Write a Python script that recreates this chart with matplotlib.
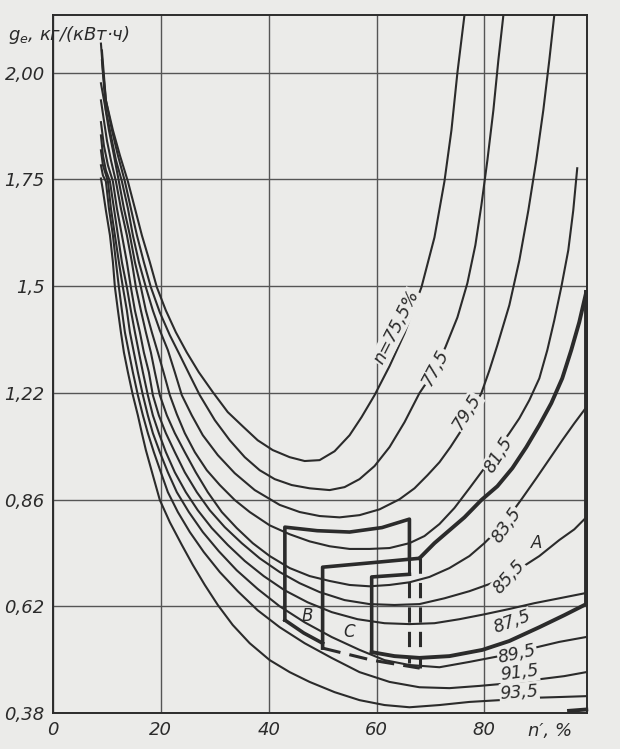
import numpy as np
import matplotlib.pyplot as plt

# y axis of the original is drawn with equal spacing between these (odd) values
ge_ticks = [0.38, 0.62, 0.86, 1.22, 1.5, 1.75, 2.00]
ge_tick_labels = ['0,38', '0,62', '0,86', '1,22', '1,5', '1,75', '2,00']
n_ticks = [0, 20, 40, 60, 80]

# curves g_e(n') for each efficiency
eff_labels = ['n=75,5%', '77,5', '79,5', '81,5', '83,5', '85,5', '87,5', '89,5', '91,5', '93,5']

n_755 = [8.89, 9.26, 9.81, 11.11, 12.41, 13.89, 15.19, 16.48, 17.96, 19.26, 20.93, 22.78, 24.81, 27.04, 29.63,
         32.41, 35.19, 37.96, 40.74, 43.89, 46.67, 49.44, 52.22, 55.0, 57.22, 59.63, 62.41, 65.19, 68.33,
         70.74, 72.59, 73.89, 75.0, 76.3]
g_755 = [2.068, 2.005, 1.935, 1.865, 1.806, 1.745, 1.682, 1.619, 1.556, 1.497, 1.436, 1.379, 1.326, 1.274, 1.222,
         1.155, 1.107, 1.06, 1.027, 1.003, 0.99, 0.993, 1.023, 1.077, 1.138, 1.212, 1.29, 1.376, 1.497,
         1.614, 1.745, 1.865, 2.0, 2.134]

n_775 = [9.07, 9.44, 9.81, 10.93, 12.04, 13.33, 14.44, 15.56, 16.85, 18.15, 19.81, 21.67, 23.52, 25.37, 27.22,
         30.0, 32.78, 35.56, 38.33, 41.11, 44.26, 47.59, 51.3, 54.07, 56.85, 59.63, 62.41, 65.19, 67.96,
         70.56, 72.78, 75.0, 76.85, 78.33, 79.44, 80.56, 81.67, 82.59, 83.52]
g_775 = [2.052, 1.994, 1.935, 1.865, 1.806, 1.745, 1.682, 1.619, 1.556, 1.497, 1.431, 1.371, 1.319, 1.266, 1.212,
         1.128, 1.06, 1.003, 0.959, 0.929, 0.909, 0.898, 0.892, 0.902, 0.929, 0.973, 1.037, 1.121, 1.219,
         1.274, 1.34, 1.418, 1.507, 1.596, 1.689, 1.795, 1.912, 2.029, 2.134]

n_795 = [9.07, 9.44, 9.81, 10.74, 11.67, 12.78, 13.89, 14.81, 15.93, 17.22, 18.52, 19.81, 21.3, 22.59, 23.89,
         25.74, 27.78, 30.56, 33.7, 37.41, 42.04, 45.74, 49.44, 53.15, 56.85, 60.56, 64.26, 67.04, 69.44,
         71.67, 73.7, 75.74, 77.59, 79.44, 80.93, 82.41, 84.63, 86.48, 88.15, 89.63, 90.93, 92.04, 92.96]
g_795 = [2.029, 1.97, 1.912, 1.853, 1.795, 1.745, 1.682, 1.619, 1.556, 1.497, 1.436, 1.384, 1.332, 1.274, 1.212,
         1.144, 1.077, 1.01, 0.949, 0.892, 0.848, 0.832, 0.823, 0.82, 0.825, 0.838, 0.861, 0.898, 0.942,
         0.986, 1.037, 1.094, 1.155, 1.219, 1.279, 1.345, 1.45, 1.56, 1.677, 1.795, 1.912, 2.029, 2.134]

n_815 = [8.89, 9.63, 10.37, 11.3, 12.22, 13.15, 14.26, 15.19, 16.3, 17.22, 18.33, 19.44, 20.56, 21.67, 22.96,
         24.44, 26.3, 28.52, 30.93, 33.7, 36.48, 40.19, 43.89, 47.59, 51.3, 55.0, 58.7, 62.41, 66.11, 68.89,
         71.67, 74.44, 77.22, 80.0, 82.78, 84.63, 86.48, 88.33, 90.19, 91.67, 92.96, 94.26, 95.56, 96.48, 97.22]
g_815 = [1.975, 1.923, 1.865, 1.806, 1.745, 1.682, 1.619, 1.556, 1.497, 1.436, 1.379, 1.326, 1.271, 1.212, 1.148,
         1.084, 1.02, 0.959, 0.909, 0.859, 0.832, 0.802, 0.782, 0.766, 0.755, 0.749, 0.749, 0.751, 0.762, 0.778,
         0.805, 0.841, 0.898, 0.966, 1.037, 1.084, 1.134, 1.195, 1.258, 1.332, 1.41, 1.497, 1.584, 1.677, 1.776]

n_835 = [8.89, 9.44, 10.0, 10.74, 11.67, 12.59, 13.7, 14.63, 15.37, 16.3, 17.22, 18.15, 18.89, 19.81, 21.11,
         22.59, 24.44, 26.48, 28.7, 31.3, 34.07, 37.04, 40.19, 43.89, 47.59, 51.3, 55.0, 58.7, 62.41, 66.11,
         69.81, 73.52, 77.22, 80.0, 82.41, 84.63, 87.04, 89.63, 92.04, 94.44, 96.67, 98.89]
g_835 = [1.935, 1.888, 1.841, 1.795, 1.745, 1.682, 1.619, 1.556, 1.497, 1.436, 1.379, 1.326, 1.274, 1.212, 1.144,
         1.084, 1.02, 0.952, 0.885, 0.832, 0.796, 0.762, 0.733, 0.706, 0.688, 0.677, 0.668, 0.665, 0.668, 0.674,
         0.686, 0.706, 0.733, 0.762, 0.791, 0.823, 0.865, 0.932, 0.996, 1.06, 1.117, 1.171]

n_855 = [8.89, 9.44, 10.19, 11.11, 11.85, 12.78, 13.7, 14.44, 15.19, 16.11, 16.85, 17.78, 18.52, 19.63, 20.93,
         22.59, 24.44, 26.67, 29.07, 31.85, 35.0, 38.33, 42.04, 45.74, 49.44, 54.07, 58.7, 63.33, 67.96,
         72.59, 77.22, 81.85, 86.48, 90.19, 93.89, 96.67, 98.89]
g_855 = [1.884, 1.829, 1.783, 1.745, 1.682, 1.619, 1.556, 1.497, 1.436, 1.379, 1.326, 1.274, 1.212, 1.144, 1.084,
         1.02, 0.952, 0.885, 0.836, 0.798, 0.762, 0.728, 0.697, 0.672, 0.652, 0.634, 0.625, 0.623, 0.625,
         0.638, 0.654, 0.674, 0.704, 0.733, 0.769, 0.793, 0.82]

n_875 = [8.89, 9.26, 9.81, 10.56, 11.3, 12.04, 12.78, 13.7, 14.44, 15.19, 15.93, 16.67, 17.59, 18.52, 19.63,
         20.93, 22.59, 24.63, 26.85, 29.44, 32.41, 35.56, 39.07, 42.96, 47.22, 51.67, 56.48, 61.48, 66.11,
         70.74, 75.37, 80.0, 84.63, 89.26, 93.89, 98.89]
g_875 = [1.853, 1.806, 1.771, 1.745, 1.682, 1.619, 1.556, 1.497, 1.436, 1.379, 1.326, 1.274, 1.212, 1.144, 1.084,
         1.02, 0.952, 0.885, 0.836, 0.796, 0.758, 0.722, 0.688, 0.656, 0.629, 0.607, 0.591, 0.582, 0.58,
         0.582, 0.591, 0.602, 0.614, 0.627, 0.638, 0.65]

n_895 = [8.89, 9.26, 10.19, 10.74, 11.48, 12.22, 12.96, 13.7, 14.26, 15.0, 15.74, 16.67, 17.59, 18.52, 19.81,
         21.3, 22.96, 25.19, 27.78, 30.74, 34.07, 37.96, 42.04, 46.67, 51.67, 56.85, 61.48, 66.11, 71.67,
         77.22, 82.78, 88.33, 93.89, 98.89]
g_895 = [1.818, 1.783, 1.745, 1.682, 1.619, 1.556, 1.497, 1.436, 1.379, 1.326, 1.274, 1.212, 1.144, 1.084, 1.02,
         0.952, 0.885, 0.832, 0.787, 0.744, 0.701, 0.659, 0.62, 0.584, 0.551, 0.522, 0.499, 0.488, 0.483,
         0.495, 0.508, 0.524, 0.54, 0.551]

n_915 = [8.89, 9.26, 9.81, 10.37, 11.11, 11.67, 12.22, 12.78, 13.33, 14.07, 14.81, 15.74, 16.67, 17.59, 18.7,
         20.0, 21.3, 23.15, 25.37, 27.96, 30.93, 34.26, 37.96, 42.04, 46.67, 51.67, 56.85, 62.41, 67.96,
         73.52, 79.07, 84.63, 90.19, 94.81, 98.89]
g_915 = [1.783, 1.759, 1.745, 1.682, 1.619, 1.556, 1.497, 1.436, 1.379, 1.326, 1.274, 1.212, 1.144, 1.084, 1.02,
         0.952, 0.885, 0.832, 0.787, 0.742, 0.697, 0.654, 0.611, 0.573, 0.537, 0.504, 0.472, 0.45, 0.438,
         0.436, 0.441, 0.447, 0.456, 0.463, 0.472]

n_935 = [8.89, 9.26, 9.81, 10.56, 11.11, 11.48, 12.04, 12.59, 13.15, 13.89, 14.81, 15.74, 16.48, 17.22, 18.52,
         19.81, 21.67, 23.89, 25.93, 28.15, 30.56, 33.33, 36.48, 40.19, 43.89, 47.59, 52.22, 56.85, 61.48,
         66.11, 71.67, 77.22, 82.78, 88.33, 93.89, 98.89]
g_935 = [1.752, 1.724, 1.677, 1.619, 1.556, 1.497, 1.436, 1.379, 1.326, 1.274, 1.212, 1.144, 1.084, 1.027, 0.942,
         0.859, 0.809, 0.758, 0.713, 0.668, 0.623, 0.578, 0.537, 0.499, 0.472, 0.45, 0.427, 0.409, 0.398,
         0.393, 0.398, 0.405, 0.409, 0.414, 0.416, 0.418]

# boundary of zone A (thick lines)
n_a_top = [67.96, 70.74, 73.52, 76.3, 79.44, 82.41, 85.19, 87.78, 90.19, 92.41, 94.44, 96.11, 97.59, 98.89]
g_a_top = [0.728, 0.762, 0.791, 0.82, 0.859, 0.905, 0.966, 1.037, 1.111, 1.185, 1.258, 1.332, 1.405, 1.484]
n_a_bot = [59.07, 63.33, 67.96, 73.52, 79.63, 84.63, 90.19, 94.81, 98.89]
g_a_bot = [0.517, 0.508, 0.504, 0.508, 0.522, 0.542, 0.573, 0.6, 0.625]
n_a_foot = [95.7, 98.9]
g_a_foot = [0.385, 0.388]

# zones B and C
n_b = [43.0, 43.0, 49.0, 55.0, 61.0, 66.1, 66.1]
g_b = [0.589, 0.798, 0.79, 0.787, 0.797, 0.816, 0.728]
n_b_low = [43.0, 46.5, 50.0]
g_b_low = [0.589, 0.56, 0.537]
n_c = [50.0, 50.0, 59.1, 68.0]
g_c = [0.526, 0.708, 0.718, 0.728]
n_c_bot = [50.0, 59.1, 68.0]
g_c_bot = [0.526, 0.499, 0.481]
n_d = [66.1, 59.1, 59.1]
g_d = [0.692, 0.686, 0.517]

curves = [(n_755, g_755), (n_775, g_775), (n_795, g_795), (n_815, g_815), (n_835, g_835),
          (n_855, g_855), (n_875, g_875), (n_895, g_895), (n_915, g_915), (n_935, g_935)]

# label placement (n', g_e, angle)
lab_pos = [(63.7, 1.392, 63), (70.9, 1.287, 62), (76.7, 1.155, 58), (82.6, 1.01, 58), (84.1, 0.802, 55),
           (84.6, 0.685, 48), (85.2, 0.584, 20), (86.1, 0.512, 12), (86.5, 0.47, 7), (86.5, 0.426, 4)]

ink = '#2b2b2b'
paper = '#ebebe9'

ext_t = [0.14] + ge_ticks + [2.25]
ext_p = list(range(-1, 8))


def fwd(v):
    return np.interp(np.asarray(v, dtype=float), ext_t, ext_p)


def inv(p):
    return np.interp(np.asarray(p, dtype=float), ext_p, ext_t)


fig = plt.figure(figsize=(6.2, 7.49), dpi=100, facecolor=paper)
ax = fig.add_axes([0.0855, 0.048, 0.861, 0.932])
ax.set_facecolor(paper)
ax.set_yscale('function', functions=(fwd, inv))
ax.set_xlim(0, 99)
ax.set_ylim(0.38, 2.135)

fnt = ['Liberation Sans Narrow', 'DejaVu Sans']
ax.set_yticks(ge_ticks)
ax.set_yticklabels(ge_tick_labels)
ax.set_xticks(n_ticks)
ax.set_xticklabels([str(t) for t in n_ticks])
ax.tick_params(length=0, labelsize=13, colors=ink, pad=6)
for t in ax.get_xticklabels() + ax.get_yticklabels():
    t.set_fontstyle('italic')
    t.set_family(fnt)
ax.grid(True, color='#555555', lw=1.0)
for s in ax.spines.values():
    s.set_color(ink)
    s.set_linewidth(1.4)

for nn, gg in curves:
    ax.plot(nn, gg, color=ink, lw=1.5, solid_joinstyle='round', zorder=3)

# thick lines
ax.plot(n_a_top, g_a_top, color=ink, lw=2.8, zorder=4, solid_joinstyle='round')
ax.plot(n_a_bot, g_a_bot, color=ink, lw=2.8, zorder=4, solid_joinstyle='round')
ax.plot([98.9, 98.9], [g_a_top[-1], g_a_bot[-1]], color=ink, lw=2.8, zorder=4, clip_on=False)
ax.plot(n_a_foot, g_a_foot, color=ink, lw=2.8, zorder=4, clip_on=False)
ax.plot(n_b, g_b, color=ink, lw=2.6, zorder=4, solid_joinstyle='round')
ax.plot([66.1, 66.1], [0.728, 0.492], color=ink, lw=2.2, ls=(0, (5, 3)), zorder=4)
ax.plot(n_b_low, g_b_low, color=ink, lw=2.6, zorder=4)
ax.plot(n_c, g_c, color=ink, lw=2.6, zorder=4, solid_joinstyle='round')
ax.plot([68.0, 68.0], [0.728, 0.481], color=ink, lw=2.2, ls=(0, (5, 3)), zorder=4)
ax.plot(n_c_bot, g_c_bot, color=ink, lw=2.2, ls=(0, (6, 3)), zorder=4)
ax.plot(n_d, g_d, color=ink, lw=2.6, zorder=4)

for lab, (x, y, a) in zip(eff_labels, lab_pos):
    ax.text(x, y, lab, rotation=a, ha='center', va='center', fontsize=12.5, style='italic',
            family=fnt, color=ink, zorder=5, rotation_mode='anchor',
            bbox=dict(boxstyle='square,pad=0.05', fc=paper, ec='none'))

ax.text(89.6, 0.762, 'A', fontsize=12, style='italic', family=fnt, color=ink, ha='center', va='center', zorder=5)
ax.text(47.2, 0.598, 'B', fontsize=12, style='italic', family=fnt, color=ink, ha='center', va='center', zorder=5)
ax.text(55.0, 0.562, 'C', fontsize=12, style='italic', family=fnt, color=ink, ha='center', va='center', zorder=5)

fig.text(8 / 620, 1 - 35 / 749, '$g_e$, кг/(кВт·ч)', fontsize=13, style='italic', family=fnt,
         color=ink, ha='left', va='center')
fig.text(550 / 620, 1 - 731 / 749, "n′, %", fontsize=13, style='italic', family=fnt,
         color=ink, ha='center', va='center')

fig.savefig('out.png', dpi=100, facecolor=paper)
